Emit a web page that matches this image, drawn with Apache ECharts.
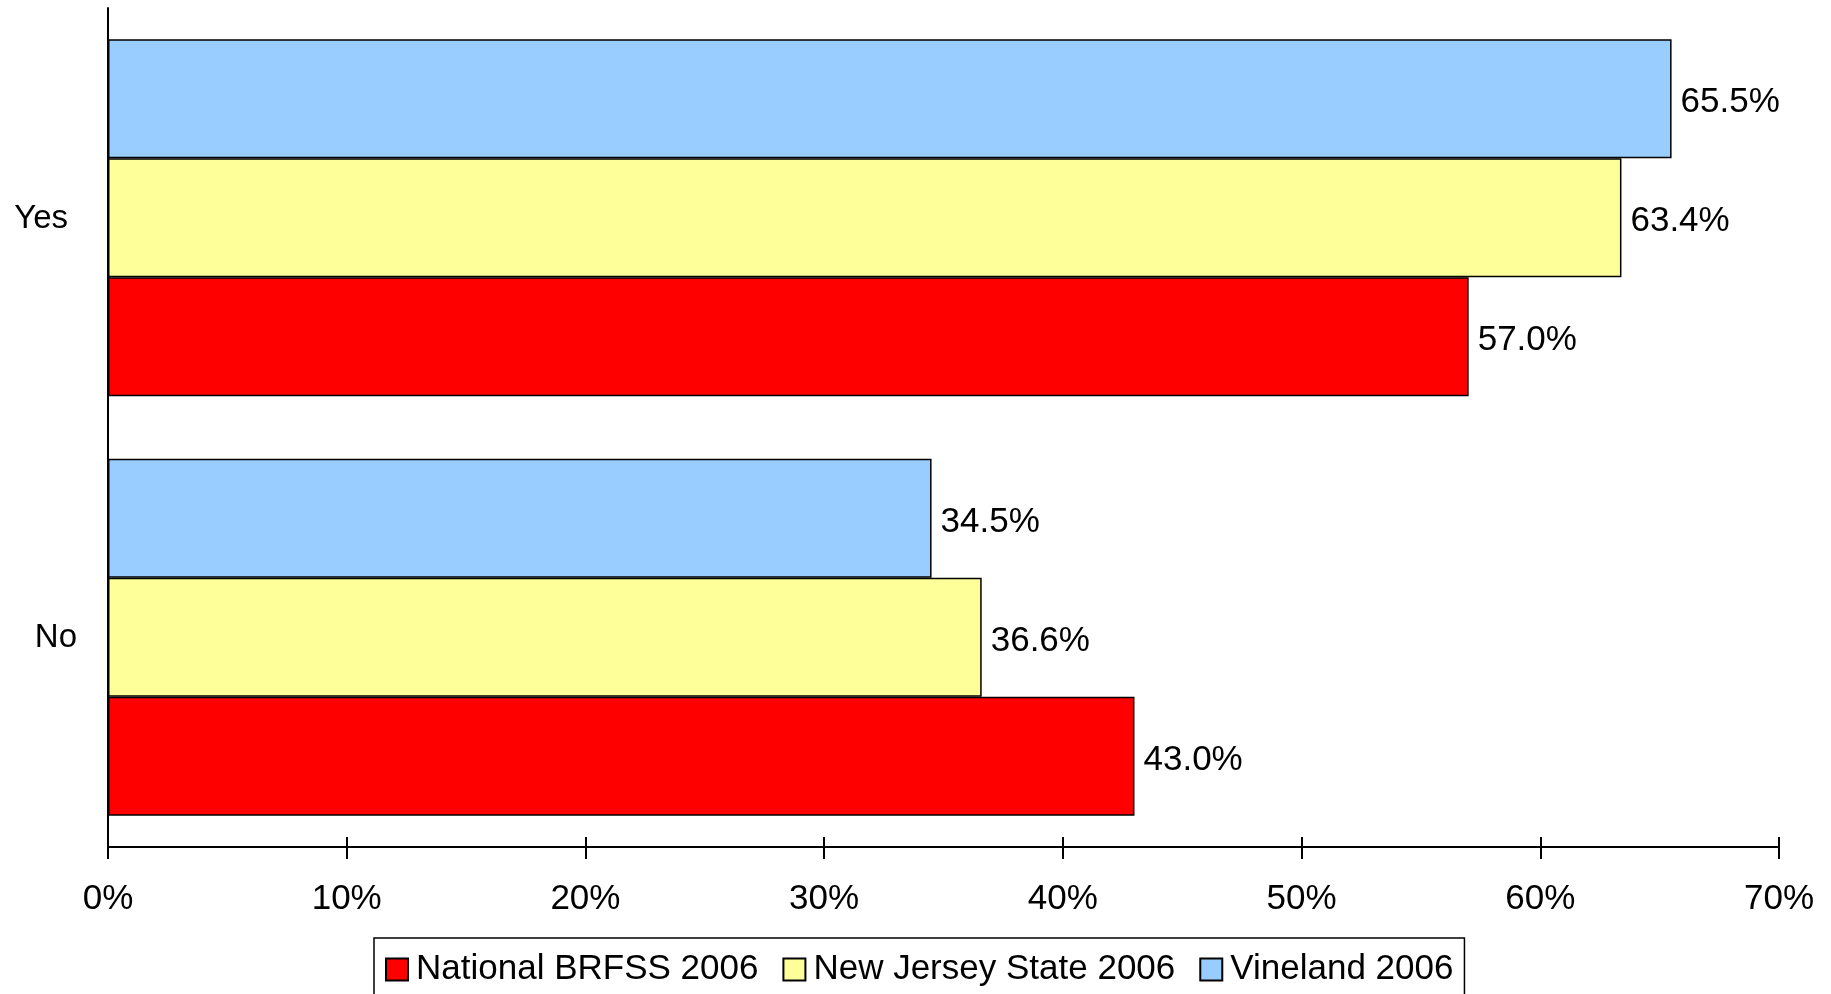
<!DOCTYPE html>
<html><head><meta charset="utf-8">
<script src="https://cdn.jsdelivr.net/npm/echarts@6/dist/echarts.min.js"></script>
<style>html,body{margin:0;padding:0;background:#fff}#c{width:1831px;height:994px}</style>
</head><body><div id="c"></div>
<script>
const categories = ['No', 'Yes'];
const seriesNames = ['National BRFSS 2006', 'New Jersey State 2006', 'Vineland 2006'];
const national = [43.0, 57.0];
const newJersey = [36.6, 63.4];
const vineland = [34.5, 65.5];
const xTicks = [0, 10, 20, 30, 40, 50, 60, 70];

const FONT = 'Liberation Sans, Arial, sans-serif';
const colors = ['#FF0000', '#FFFF99', '#99CCFF'];
const dataSets = [national, newJersey, vineland];

const chart = echarts.init(document.getElementById('c'));
const xBase = {
  type: 'value', min: xTicks[0], max: xTicks[xTicks.length - 1], interval: 10,
  splitLine: { show: false }
};
chart.setOption({
  animation: false,
  grid: { left: 108, right: 52, top: 8, bottom: 147, containLabel: false },
  legend: {
    data: seriesNames,
    left: 374, top: 938,
    orient: 'horizontal',
    padding: [14, 11, 14, 11],
    borderColor: '#000', borderWidth: 1.5,
    itemWidth: 22, itemHeight: 22, itemGap: 24,
    icon: 'rect',
    textStyle: { fontFamily: FONT, fontSize: 35, color: '#000', padding: [4, 0, 0, 3] }
  },
  xAxis: [
    Object.assign({}, xBase, {
      axisLine: { show: true, lineStyle: { color: '#000', width: 2 } },
      axisTick: { show: true, length: 12, lineStyle: { color: '#000', width: 2 } },
      axisLabel: { fontFamily: FONT, fontSize: 35, color: '#000', margin: 35, formatter: v => v + '%' }
    }),
    Object.assign({}, xBase, {
      position: 'bottom',
      axisLine: { show: false },
      axisTick: { show: true, inside: true, length: 10, lineStyle: { color: '#000', width: 2 } },
      axisLabel: { show: false }
    })
  ],
  yAxis: {
    type: 'category', data: categories,
    axisLine: { show: true, lineStyle: { color: '#000', width: 2 } },
    axisTick: { show: false },
    axisLabel: {
      fontFamily: FONT, fontSize: 33, color: '#000', margin: 31,
      formatter: v => v === 'Yes' ? '{y|Yes}' : '{n|No}',
      rich: {
        y: { fontFamily: FONT, fontSize: 33, color: '#000', padding: [2, 9, 0, 0] },
        n: { fontFamily: FONT, fontSize: 33, color: '#000', padding: [2, 0, 0, 0] }
      }
    }
  },
  series: [2, 1, 0].map(i => ({
    name: seriesNames[i], type: 'bar',
    xAxisIndex: 0,
    data: dataSets[i],
    barWidth: 119, barGap: '0%',
    itemStyle: { color: colors[i], borderColor: '#000', borderWidth: 1.5 },
    label: {
      show: true, position: 'right', distance: 9, offset: [0, 4],
      fontFamily: FONT, fontSize: 35, color: '#000',
      formatter: p => p.value.toFixed(1) + '%'
    }
  }))
});
</script></body></html>
